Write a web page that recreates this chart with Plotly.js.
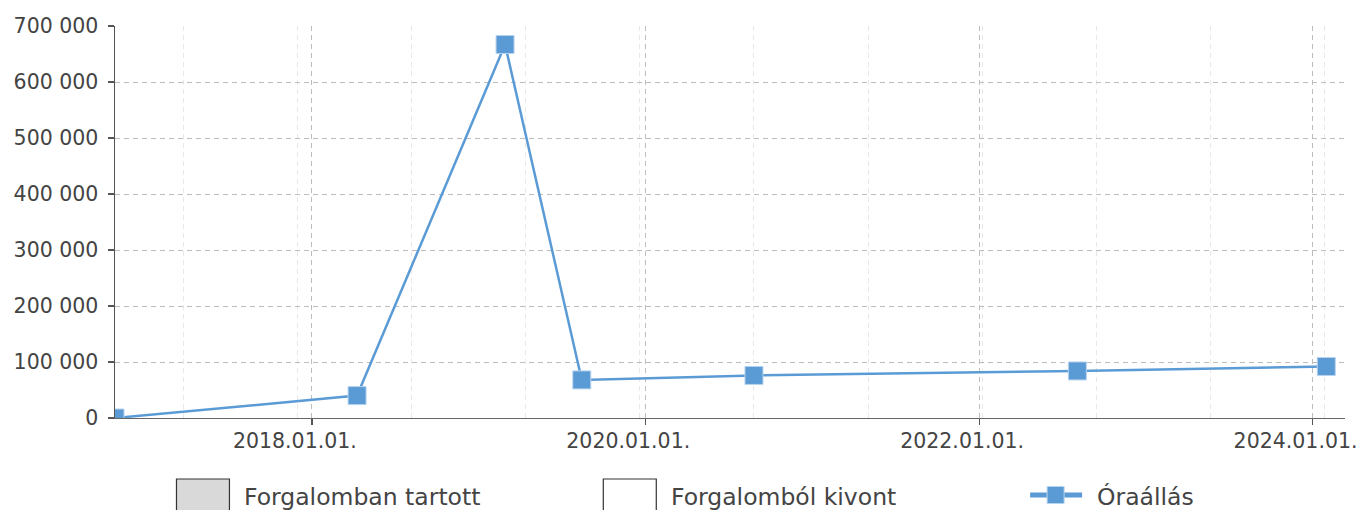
<!DOCTYPE html>
<html>
<head>
<meta charset="utf-8">
<script src="https://cdn.plot.ly/plotly-3.0.1.min.js"></script>
<style>
html,body{margin:0;padding:0;background:#fff;}
#chart{width:1361px;height:510px;}
</style>
</head>
<body>
<div id="chart"></div>
<script>
// Data
var dates = ['2016-10-27', '2018-04-10', '2019-02-28', '2019-08-15', '2020-08-26', '2022-08-04', '2024-01-31'];
var oraallas = [0, 40000, 667000, 68000, 76000, 84000, 92000];
var seriesName = 'Óraállás';
var legendNames = ['Forgalomban tartott', 'Forgalomból kivont', 'Óraállás'];
var xRange = ['2016-10-27', '2024-03-12'];
var yRange = [0, 700000];

var lineColor = '#5b9bd5';
var textColor = '#444444';
var fontFamily = "'DejaVu Sans', sans-serif";

var traces = [{
  x: dates,
  y: oraallas,
  type: 'scatter',
  mode: 'lines+markers',
  name: seriesName,
  showlegend: false,
  line: {color: lineColor, width: 2.5},
  marker: {symbol: 'square', size: 18, color: lineColor, line: {color: '#b8d3ee', width: 1}},
  cliponaxis: true
}];

// custom legend (paper coordinates)
var L = 114.5, W = 1230.5, B = 418, H = 392;
function px(x){ return (x - L) / W; }
function py(y){ return (B - y) / H; }

var shapes = [
  {type:'rect', xref:'paper', yref:'paper', x0:px(176), x1:px(229), y0:py(479), y1:py(532),
   fillcolor:'#d9d9d9', line:{color:'#333', width:1.2}},
  {type:'rect', xref:'paper', yref:'paper', x0:px(603), x1:px(656), y0:py(479), y1:py(532),
   fillcolor:'#ffffff', line:{color:'#333', width:1.2}},
  {type:'line', xref:'paper', yref:'paper', x0:px(1030), x1:px(1082), y0:py(495), y1:py(495),
   line:{color:lineColor, width:5}},
  {type:'rect', xref:'paper', yref:'paper', x0:px(1047), x1:px(1064), y0:py(486.5), y1:py(503.5),
   fillcolor:lineColor, line:{color:'#b8d3ee', width:1}}
];

var annotations = [
  {text: legendNames[0], x: px(242), y: py(497), xanchor:'left', yanchor:'middle'},
  {text: legendNames[1], x: px(669), y: py(497), xanchor:'left', yanchor:'middle'},
  {text: legendNames[2], x: px(1095), y: py(497), xanchor:'left', yanchor:'middle'}
].map(function(a){
  a.xref = 'paper'; a.yref = 'paper'; a.showarrow = false;
  a.font = {family: fontFamily, size: 23.5, color: textColor};
  return a;
});

var layout = {
  width: 1361,
  height: 510,
  margin: {l: 114.5, r: 16, t: 26, b: 92, pad: 0},
  paper_bgcolor: '#ffffff',
  plot_bgcolor: '#ffffff',
  separators: ', ',
  font: {family: fontFamily, size: 20.5, color: textColor},
  showlegend: false,
  xaxis: {
    type: 'date',
    range: xRange,
    tickmode: 'linear',
    tick0: '2018-01-01',
    dtick: 'M24',
    tickformat: '%Y.%m.%d.',
    ticks: 'outside',
    ticklen: 6,
    tickcolor: '#555',
    tickwidth: 1.3,
    ticklabelshift: -17,
    ticklabelstandoff: -2,
    ticklabeloverflow: 'allow',
    showline: true,
    linecolor: '#666',
    linewidth: 1.3,
    showgrid: true,
    gridcolor: '#bdbdbd',
    griddash: '5px,4px',
    gridwidth: 1,
    zeroline: false,
    tickfont: {size: 20.5, color: textColor},
    minor: {
      tick0: '2017-03-25',
      dtick: 250 * 86400000,
      showgrid: true,
      gridcolor: '#e8e8e8',
      griddash: '5px,4px',
      gridwidth: 1,
      ticks: ''
    }
  },
  yaxis: {
    range: yRange,
    tickmode: 'linear',
    tick0: 0,
    dtick: 100000,
    tickformat: ',d',
    ticks: 'outside',
    ticklen: 6,
    tickcolor: '#555',
    tickwidth: 1.3,
    ticklabelstandoff: 5,
    showline: true,
    linecolor: '#555',
    linewidth: 1.5,
    showgrid: true,
    gridcolor: '#bdbdbd',
    griddash: '5px,4px',
    gridwidth: 1,
    zeroline: false,
    tickfont: {size: 20.5, color: textColor}
  },
  shapes: shapes,
  annotations: annotations
};

Plotly.newPlot('chart', traces, layout, {displayModeBar: false, staticPlot: true});
</script>
</body>
</html>
